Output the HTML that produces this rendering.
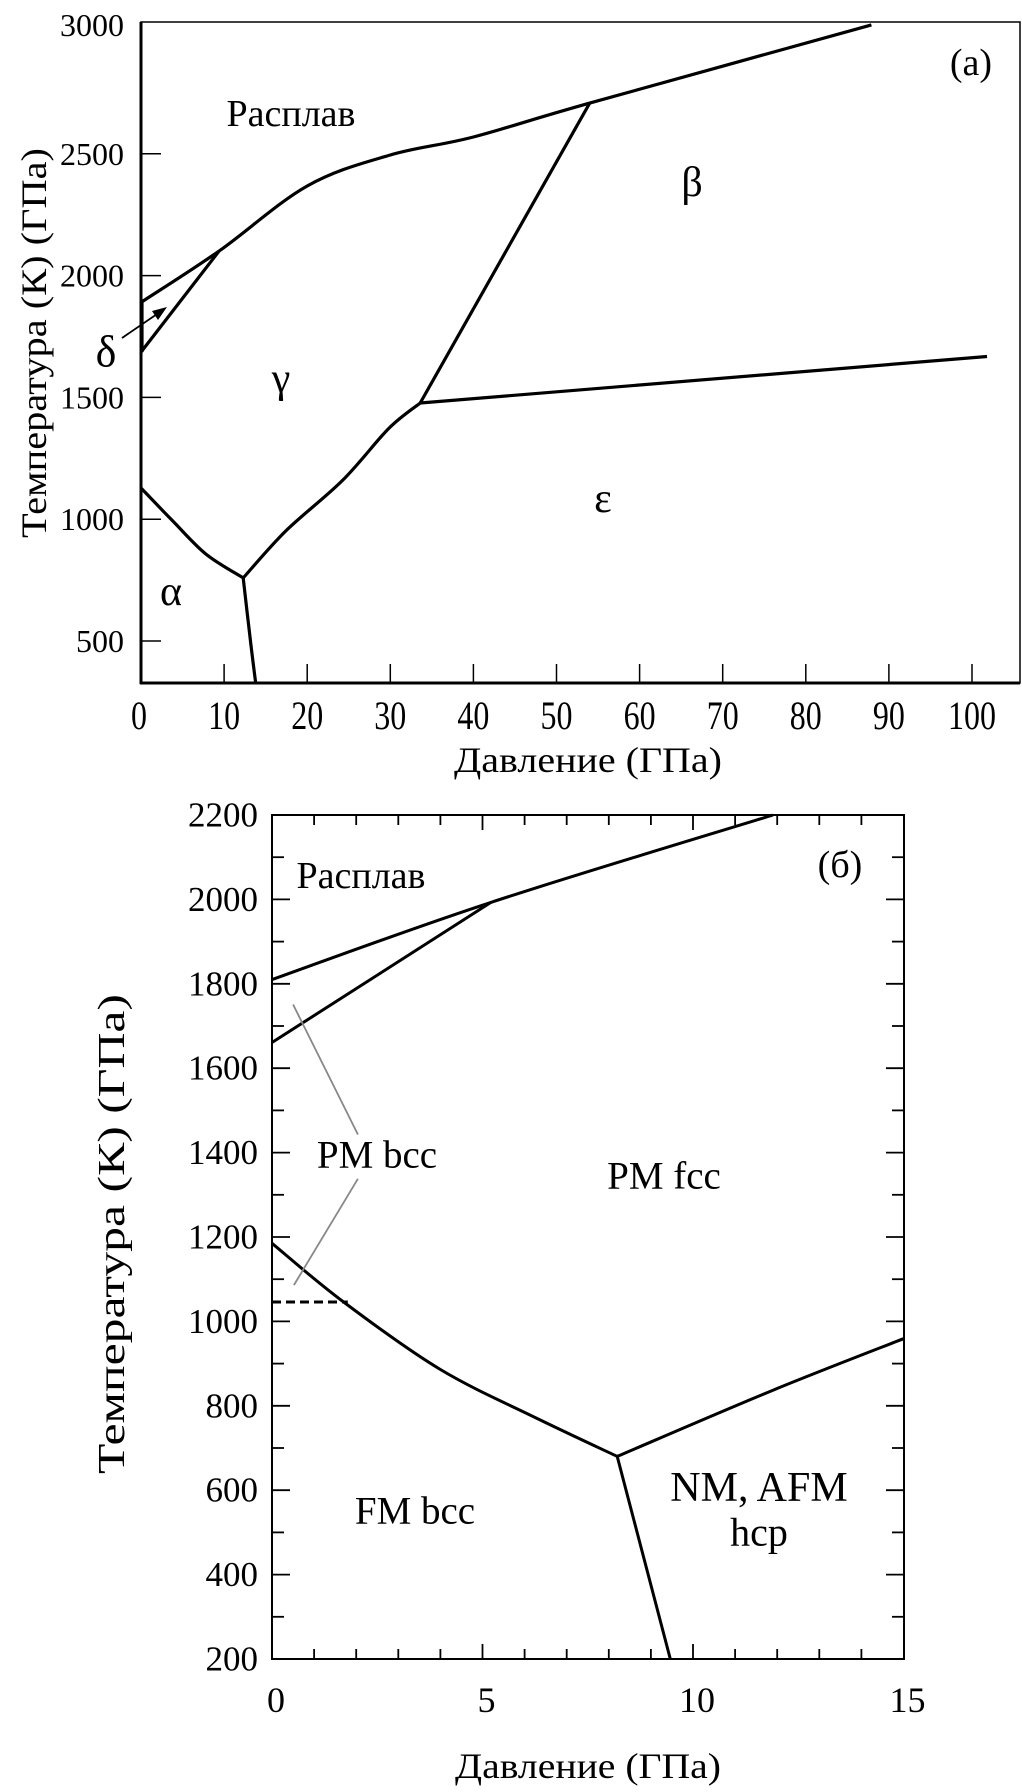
<!DOCTYPE html>
<html><head><meta charset="utf-8"><style>
body{margin:0;background:#fff;}
svg{display:block;font-family:"Liberation Serif",serif;}
</style></head><body>
<svg id="fig" width="1022" height="1792" viewBox="0 0 1022 1792"></svg>
<script>
// ---- Panel (a) data ----
const aXTicks=[0,10,20,30,40,50,60,70,80,90,100];
const aYTicks=[500,1000,1500,2000,2500,3000];
const aMeltP=[0,9.4,20,30,40,54,87.9];
const aMeltT=[1890,2101,2368,2495,2569,2708,3029];
const aDeltaP=[0,9.4];
const aDeltaT=[1686,2101];
const aGammaBetaP=[54,33.6];
const aGammaBetaT=[2708,1477];
const aEpsBetaP=[33.6,101.8];
const aEpsBetaT=[1477,1668];
const aGammaEpsP=[12.3,17.4,24.3,29.8,33.6];
const aGammaEpsT=[759,951,1161,1372,1477];
const aAlphaGammaP=[0,3.7,7.8,12.3];
const aAlphaGammaT=[1128,997,857,759];
const aAlphaEpsP=[12.3,13.1,13.8];
const aAlphaEpsT=[759,520,327];
// ---- Panel (б) data ----
const bXMajor=[0,5,10,15];
const bYLabels=[200,400,600,800,1000,1200,1400,1600,1800,2000,2200];
const bMeltP=[0,5.2,11.9];
const bMeltT=[1810,1993,2200];
const bDeltaP=[0,5.2];
const bDeltaT=[1661,1993];
const bBccFccP=[0,1.7,4,6.3,8.2];
const bBccFccT=[1185,1046,886,770,680];
const bHcpFccP=[8.2,11.9,15];
const bHcpFccT=[680,837,959];
const bBccHcpP=[8.2,9.46];
const bBccHcpT=[680,200];
const bDashP=[0,1.8];
const bDashT=[1046,1046];
const bGrey1P=[0.5,2.04];
const bGrey1T=[1751,1443];
const bGrey2P=[2.04,0.52];
const bGrey2T=[1338,1086];

const NS="http://www.w3.org/2000/svg";
const svg=document.getElementById('fig');
function mk(tag,attrs,parent){const e=document.createElementNS(NS,tag);for(const k in attrs)e.setAttribute(k,attrs[k]);(parent||svg).appendChild(e);return e;}
function txt(s,x,y,size,anchor,parent){const t=mk('text',{x:x,y:y,'font-size':size,'text-anchor':anchor||'middle','dominant-baseline':'central',fill:'#000'},parent);t.textContent=s;return t;}

const ax=p=>141+8.31*p, ay=t=>641-(t-500)*0.2436;
const bx=p=>272+42.1*p, by=t=>1659-(t-200)*0.422;

function curve(P,T,sx,sy,name,extra){
  const pts=P.map((p,i)=>[sx(p),sy(T[i])]);
  let d='M'+pts[0][0].toFixed(1)+' '+pts[0][1].toFixed(1);
  if(pts.length<3){for(let i=1;i<pts.length;i++)d+=' L'+pts[i][0].toFixed(1)+' '+pts[i][1].toFixed(1);}
  else{
    for(let i=0;i<pts.length-1;i++){
      const p0=pts[Math.max(0,i-1)],p1=pts[i],p2=pts[i+1],p3=pts[Math.min(pts.length-1,i+2)];
      const c1=[p1[0]+(p2[0]-p0[0])/6,p1[1]+(p2[1]-p0[1])/6];
      const c2=[p2[0]-(p3[0]-p1[0])/6,p2[1]-(p3[1]-p1[1])/6];
      d+=' C'+c1.map(v=>v.toFixed(1)).join(' ')+' '+c2.map(v=>v.toFixed(1)).join(' ')+' '+p2[0].toFixed(1)+' '+p2[1].toFixed(1);
    }
  }
  const e=mk('path',Object.assign({d:d,fill:'none',stroke:'#000','stroke-width':3.2,'stroke-linejoin':'round'},extra||{}));
  
  
  return e;
}

// ===== Panel (a) =====
const ga=mk('g',{});


let fr=mk('rect',{x:141,y:22,width:879,height:661,fill:'none',stroke:'#000','stroke-width':1.5},ga);


let la=mk('line',{x1:141,y1:22,x2:141,y2:684,stroke:'#000','stroke-width':3},ga);


let lb=mk('line',{x1:140,y1:683,x2:1020,y2:683,stroke:'#000','stroke-width':3},ga);


aXTicks.forEach(v=>{
  const x=ax(v);
  if(v>0){const tk=mk('line',{x1:x,y1:683,x2:x,y2:664,stroke:'#000','stroke-width':1.5},ga);
  
  }
  const lx=v===0?139:x;
  const t=txt(String(v),lx,716,40,'middle',ga);
  t.setAttribute('transform','translate('+lx+' 0) scale(0.8 1) translate('+(-lx)+' 0)');
  
  
});
aYTicks.forEach(v=>{
  const y=v===3000?25:ay(v);
  if(v<3000){const tk=mk('line',{x1:141,y1:y,x2:161,y2:y,stroke:'#000','stroke-width':1.5},ga);
  
  }
  const t=txt(String(v),124,y,32,'end',ga);
  
  
});
let xt=txt('Давление (ГПа)',588,760,36,'middle',ga);
xt.setAttribute('textLength','268');xt.setAttribute('lengthAdjust','spacingAndGlyphs');


let yt=txt('Температура (К) (ГПа)',0,0,36,'middle',ga);
yt.setAttribute('transform','translate(34 343) rotate(-90)');
yt.setAttribute('textLength','390');yt.setAttribute('lengthAdjust','spacingAndGlyphs');



ga.appendChild(curve(aMeltP,aMeltT,ax,ay,'melting-curve-a'));
ga.appendChild(curve(aDeltaP,aDeltaT,ax,ay,'delta-gamma-boundary'));
ga.appendChild(curve(aGammaBetaP,aGammaBetaT,ax,ay,'gamma-beta-boundary'));
ga.appendChild(curve(aEpsBetaP,aEpsBetaT,ax,ay,'epsilon-beta-boundary'));
ga.appendChild(curve(aGammaEpsP,aGammaEpsT,ax,ay,'gamma-epsilon-boundary'));
ga.appendChild(curve(aAlphaGammaP,aAlphaGammaT,ax,ay,'alpha-gamma-boundary'));
ga.appendChild(curve(aAlphaEpsP,aAlphaEpsT,ax,ay,'alpha-epsilon-boundary'));
let de=mk('line',{x1:142,y1:ay(aDeltaT[0]),x2:142,y2:ay(aMeltT[0]),stroke:'#000','stroke-width':3.2},ga);


let ar=mk('line',{x1:122,y1:338,x2:160,y2:312,stroke:'#000','stroke-width':1.8},ga);


let ah=mk('polygon',{points:'167,307 152,311 158,320',fill:'#000'},ga);


[['Расплав',291,114,38,'label-melt-a'],['β',692,183,42,'label-beta'],['δ',106,352,44,'label-delta'],['γ',281,379,42,'label-gamma'],['ε',603,499,42,'label-epsilon'],['α',171,592,42,'label-alpha'],['(a)',971,63,38,'panel-a-letter']].forEach(a=>{
  const t=txt(a[0],a[1],a[2],a[3],'middle',ga);
  
  
});

// ===== Panel (б) =====
const gb=mk('g',{});


let fb=mk('rect',{x:272,y:815,width:632,height:844,fill:'none',stroke:'#000','stroke-width':2},gb);


for(let p=1;p<15;p++){
  const major=bXMajor.indexOf(p)>=0, L=major?15:10, x=bx(p);
  const t1=mk('line',{x1:x,y1:1659,x2:x,y2:1659-L,stroke:'#000','stroke-width':1.8},gb);
  
  
  const t2=mk('line',{x1:x,y1:815,x2:x,y2:815+L,stroke:'#000','stroke-width':1.8},gb);
  
  
}
bXMajor.forEach(v=>{
  const x=bx(v)+4;
  const t=txt(String(v),x,1700,36,'middle',gb);
  
  
});
for(let T=300;T<2200;T+=100){
  const major=bYLabels.indexOf(T)>=0, L=major?18:12, y=by(T);
  const t1=mk('line',{x1:272,y1:y,x2:272+L,y2:y,stroke:'#000','stroke-width':1.8},gb);
  
  
  const t2=mk('line',{x1:904,y1:y,x2:904-L,y2:y,stroke:'#000','stroke-width':1.8},gb);
  
  
}
bYLabels.forEach(v=>{
  const t=txt(String(v),258,by(v),35,'end',gb);
  
  
});
let xt2=txt('Давление (ГПа)',588,1766,36,'middle',gb);
xt2.setAttribute('textLength','266');xt2.setAttribute('lengthAdjust','spacingAndGlyphs');


let yt2=txt('Температура (К) (ГПа)',0,0,38,'middle',gb);
yt2.setAttribute('transform','translate(112 1234) rotate(-90)');
yt2.setAttribute('textLength','480');yt2.setAttribute('lengthAdjust','spacingAndGlyphs');



gb.appendChild(curve(bMeltP,bMeltT,bx,by,'melting-curve-b',{'stroke-width':3}));
gb.appendChild(curve(bDeltaP,bDeltaT,bx,by,'bcc-fcc-high-boundary',{'stroke-width':3}));
gb.appendChild(curve(bBccFccP,bBccFccT,bx,by,'bcc-fcc-low-boundary',{'stroke-width':3}));
gb.appendChild(curve(bHcpFccP,bHcpFccT,bx,by,'hcp-fcc-boundary',{'stroke-width':3}));
gb.appendChild(curve(bBccHcpP,bBccHcpT,bx,by,'bcc-hcp-boundary',{'stroke-width':3}));
gb.appendChild(curve(bDashP,bDashT,bx,by,'curie-dashed-line',{'stroke-width':3,'stroke-dasharray':'9 5'}));
gb.appendChild(curve(bGrey1P,bGrey1T,bx,by,'pm-bcc-pointer-upper',{'stroke-width':1.8,stroke:'#888'}));
gb.appendChild(curve(bGrey2P,bGrey2T,bx,by,'pm-bcc-pointer-lower',{'stroke-width':1.8,stroke:'#888'}));
[['Расплав',361,876,38,'label-melt-b'],['PM bcc',377,1155,39,'label-pm-bcc'],['PM fcc',664,1176,39,'label-pm-fcc'],['(б)',840,865,38,'panel-b-letter'],['FM bcc',415,1511,39,'label-fm-bcc'],['NM, AFM',759,1488,42,'label-nm-afm'],['hcp',759,1532,40,'label-hcp']].forEach(a=>{
  const t=txt(a[0],a[1],a[2],a[3],'middle',gb);
  
  
});
</script>
</body></html>
